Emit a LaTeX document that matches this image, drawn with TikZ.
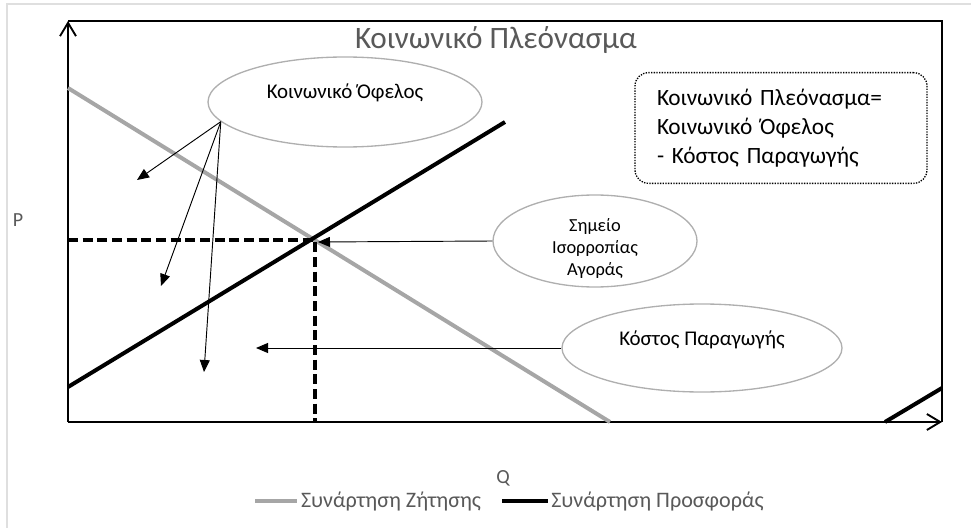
\documentclass[tikz,border=0pt]{standalone}
\usepackage{fontspec}
\setmainfont{Carlito}
\usetikzlibrary{arrows.meta,shapes.geometric}
\definecolor{demgray}{HTML}{A6A6A6}
\definecolor{txtgray}{HTML}{595959}
\definecolor{ringgray}{HTML}{AFAFAF}
\tikzset{
  bubble/.style={ellipse, draw=ringgray, line width=1pt, inner sep=0pt},
  bubbletext/.style={font=\fontsize{15.7}{18}\selectfont, inner sep=0pt},
  pointer/.style={line width=0.7pt, -{Triangle[length=9pt,width=7.5pt]}},
  guide/.style={line width=2.3pt, dash pattern=on 7.5pt off 3.5pt},
}
\begin{document}
\begin{tikzpicture}[x=0.75pt,y=-0.75pt]
        \useasboundingbox (0,0) rectangle (971,528);
        \draw[gray!25, line width=1.2pt] (7,528) -- (7,4) -- (971,4);
        % Ejes y marco
        \draw[line width=1.4pt] (68,21) -- (942,21) -- (942,422);
        \draw[line width=1.4pt, -{Straight Barb[length=10pt,width=12pt]}] (68,422) -- (68,21);
        \draw[line width=1.4pt, -{Straight Barb[length=10pt,width=12pt]}] (68,422) -- (942,422);
        \node[txtgray, font=\fontsize{15}{17}\selectfont] (plab) at (18,220) {P};
        \node[txtgray, font=\fontsize{15}{17}\selectfont] (qlab) at (503,478) {Q};
        \node[txtgray, font=\fontsize{23.4}{26}\selectfont] (titlos) at (496,40) {Κοινωνικό Πλεόνασμα};
        % Zitisi - Prosfora
        \draw[demgray, line width=3pt] (68,88) -- (610,422);
        \draw[line width=3pt] (68,387) -- (505,122);
        \draw[line width=3pt] (885,422) -- (942,388);
        \coordinate (eq) at (315,240);
        \draw[guide] (68,240) -- (eq) -- (315,422);
        % Ellipseis
        \node[bubble, minimum width=205.5pt, minimum height=67.5pt,
              label={[bubbletext, yshift=6.75pt]center:Κοινωνικό Όφελος}] (ofelos) at (345,102) {};
        \node[bubble, minimum width=153pt, minimum height=69pt,
              label={[bubbletext, font=\fontsize{13.8}{16.5}\selectfont, align=center, yshift=-6pt]center:Σημείο\\Ισορροπίας\\Αγοράς}] (isorr) at (595,241) {};
        \node[bubble, minimum width=210pt, minimum height=66pt,
              label={[bubbletext, yshift=6pt]center:Κόστος Παραγωγής}] (kostos) at (702,348) {};
        \node[draw, line width=1pt, dash pattern=on 1pt off 1pt, rounded corners=10pt,
              text width=186pt, inner xsep=16.5pt, minimum height=83pt, align=left,
              font=\fontsize{17.5}{21.5}\selectfont] (typos) at (781,128)
              {Κοινωνικό Πλεόνασμα=\\Κοινωνικό Όφελος\\- Κόστος Παραγωγής};
        % Velh
        \coordinate (ofA) at (137,180);
        \coordinate (ofB) at (161,286);
        \coordinate (ofC) at (204,372);
        \coordinate (eqtip) at (318,242);
        \coordinate (kostip) at (256,348);
        \foreach \t in {ofA,ofB,ofC}{
            \draw[pointer] (ofelos.189) -- (\t);
        }
        \draw[pointer] (isorr.west) -- (eqtip);
        \draw[pointer] (kostos.west) -- (kostip);
        % Ypomnima
        \draw[demgray, line width=3pt] (255,501) -- (297,501) node[right, inner sep=1.5pt, txtgray, font=\fontsize{16.6}{18}\selectfont] (zit) {Συνάρτηση Ζήτησης};
        \draw[line width=3pt] (502,501) -- (548,501) node[right, inner sep=1pt, txtgray, font=\fontsize{16.6}{18}\selectfont] (pros) {Συνάρτηση Προσφοράς};
    \end{tikzpicture}
\end{document}
